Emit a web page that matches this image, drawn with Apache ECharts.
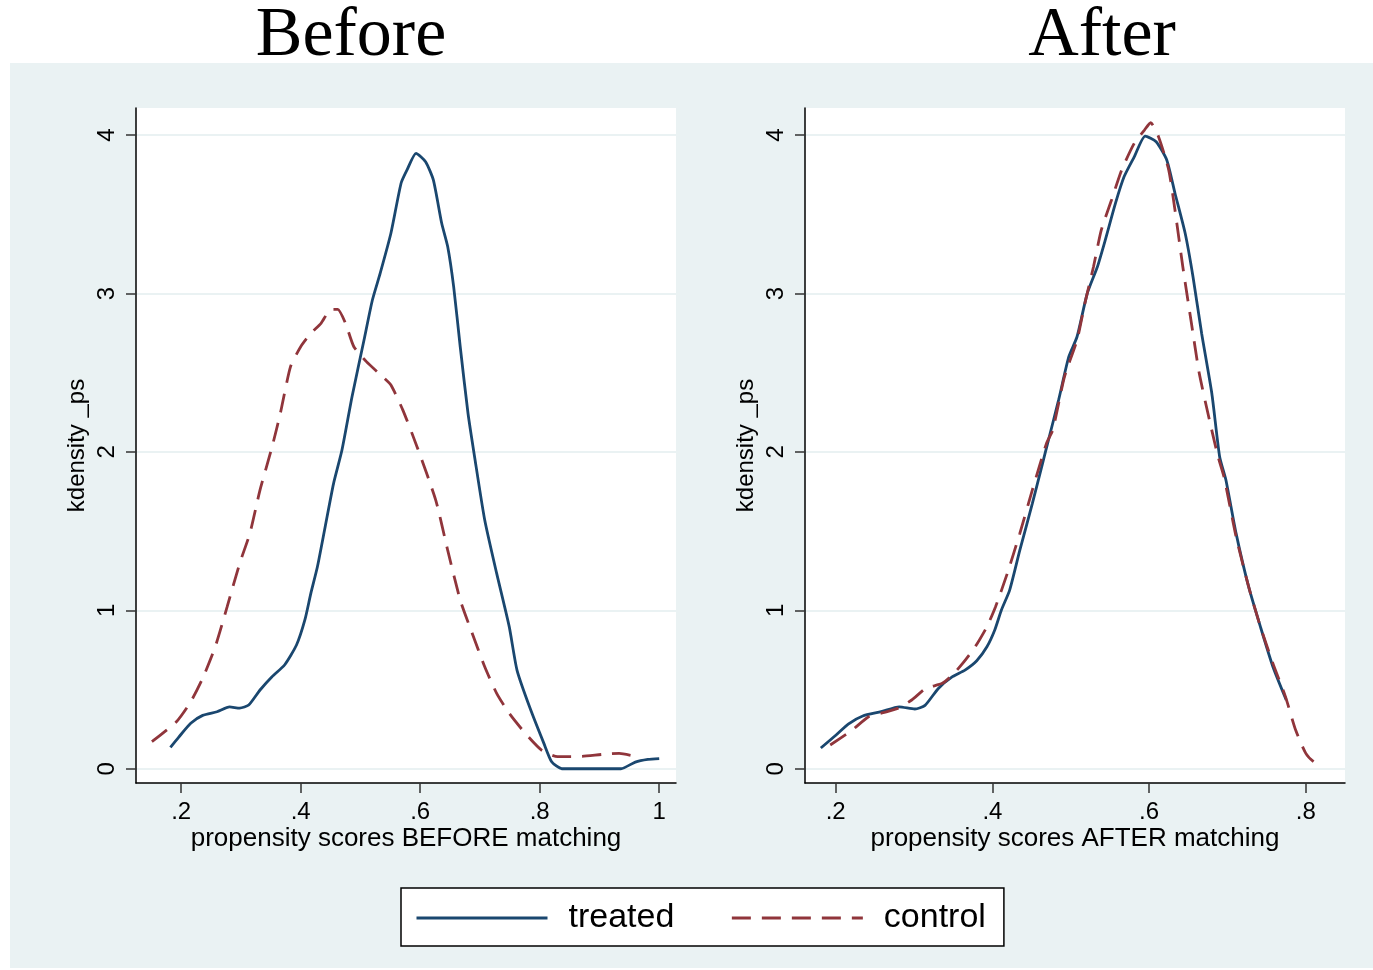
<!DOCTYPE html>
<html>
<head>
<meta charset="utf-8">
<script src="https://cdn.jsdelivr.net/npm/echarts@6/dist/echarts.min.js"></script>
<style>
html, body { margin: 0; padding: 0; background: #fff; }
#chart { width: 1373px; height: 970px; }
</style>
</head>
<body>
<div id="chart"></div>
<script>
// kdensity of propensity scores
const beforeTreated = [
  [0.182, 0.135], [0.196, 0.20], [0.216, 0.287], [0.236, 0.337], [0.260, 0.36], [0.281, 0.39],
  [0.298, 0.383], [0.313, 0.402], [0.332, 0.497], [0.352, 0.581], [0.373, 0.655], [0.393, 0.781],
  [0.407, 0.939], [0.417, 1.107], [0.428, 1.275], [0.441, 1.528], [0.455, 1.80], [0.469, 2.01],
  [0.486, 2.35], [0.506, 2.706], [0.520, 2.959], [0.533, 3.127], [0.551, 3.38], [0.568, 3.696],
  [0.578, 3.78], [0.593, 3.885], [0.609, 3.832], [0.622, 3.717], [0.636, 3.443], [0.646, 3.296],
  [0.656, 3.043], [0.667, 2.664], [0.680, 2.244], [0.691, 1.97], [0.708, 1.57], [0.728, 1.233],
  [0.749, 0.897], [0.762, 0.623], [0.783, 0.391], [0.807, 0.16], [0.820, 0.044], [0.837, 0],
  [0.936, 0], [0.960, 0.042], [0.981, 0.059], [1.0, 0.064]
];
const beforeControl = [
  [0.151, 0.171], [0.192, 0.297], [0.216, 0.423], [0.236, 0.571], [0.257, 0.77], [0.277, 1.023],
  [0.298, 1.297], [0.315, 1.486], [0.332, 1.76], [0.352, 2.03], [0.366, 2.244], [0.383, 2.538],
  [0.400, 2.664], [0.417, 2.749], [0.434, 2.812], [0.451, 2.9], [0.462, 2.9], [0.475, 2.812],
  [0.489, 2.664], [0.510, 2.57], [0.537, 2.475], [0.551, 2.422], [0.571, 2.264], [0.595, 2.03],
  [0.626, 1.696], [0.646, 1.38], [0.667, 1.065], [0.687, 0.855], [0.708, 0.644], [0.728, 0.476],
  [0.749, 0.35], [0.776, 0.223], [0.803, 0.118], [0.830, 0.076], [0.871, 0.078], [0.906, 0.091],
  [0.933, 0.097], [0.952, 0.085]
];
const afterTreated = [
  [0.181, 0.131], [0.2005, 0.213], [0.216, 0.282], [0.2345, 0.333], [0.258, 0.36], [0.281, 0.391],
  [0.301, 0.377], [0.314, 0.40], [0.331, 0.507], [0.349, 0.581], [0.365, 0.623], [0.380, 0.682],
  [0.393, 0.77], [0.403, 0.876], [0.4115, 1.002], [0.422, 1.128], [0.435, 1.38], [0.451, 1.675],
  [0.464, 1.928], [0.4715, 2.075], [0.4845, 2.328], [0.4975, 2.601], [0.508, 2.727], [0.521, 3.0],
  [0.534, 3.169], [0.544, 3.337], [0.557, 3.569], [0.568, 3.737], [0.581, 3.863], [0.595, 3.994],
  [0.609, 3.958], [0.6225, 3.843], [0.633, 3.633], [0.646, 3.38], [0.656, 3.106], [0.667, 2.749],
  [0.680, 2.37], [0.690, 1.97], [0.698, 1.823], [0.711, 1.486], [0.727, 1.149], [0.742, 0.897],
  [0.758, 0.644], [0.775, 0.434]
];
const afterControl = [
  [0.193, 0.15], [0.221, 0.244], [0.242, 0.328], [0.2605, 0.354], [0.279, 0.381], [0.297, 0.434],
  [0.315, 0.507], [0.336, 0.539], [0.349, 0.592], [0.362, 0.665], [0.378, 0.77], [0.393, 0.897],
  [0.404, 1.023], [0.419, 1.233], [0.435, 1.486], [0.451, 1.76], [0.469, 2.054], [0.477, 2.138],
  [0.492, 2.475], [0.508, 2.706], [0.518, 2.938], [0.529, 3.169], [0.539, 3.401], [0.552, 3.59],
  [0.565, 3.78], [0.581, 3.948], [0.594, 4.032], [0.602, 4.078], [0.612, 3.99], [0.625, 3.78],
  [0.633, 3.527], [0.643, 3.169], [0.654, 2.812], [0.664, 2.496], [0.677, 2.201], [0.688, 1.97],
  [0.6955, 1.843], [0.711, 1.465], [0.727, 1.149], [0.742, 0.897], [0.758, 0.665], [0.774, 0.455],
  [0.787, 0.244], [0.800, 0.097], [0.810, 0.044], [0.820, 0.019]
];
const yTicks = [0, 1, 2, 3, 4];
const xTicksBefore = [0.2, 0.4, 0.6, 0.8, 1];
const xTicksAfter = [0.2, 0.4, 0.6, 0.8];
const panelTitles = ["Before", "After"];
const xTitles = ["propensity scores BEFORE matching", "propensity scores AFTER matching"];
const yTitle = "kdensity _ps";
const seriesNames = ["treated", "control"];

const NAVY = "#1A476F";
const MAROON = "#90353B";
const BG = "#EAF2F3";
const FONT = "Liberation Sans";

const chart = echarts.init(document.getElementById("chart"));

function fmtX(v) {
  if (Math.abs(v - 1) < 1e-9) return "1";
  return v.toFixed(1).replace(/^0/, "");
}

function xAxisOf(gridIndex, min, max, ticks, name) {
  return {
    type: "value",
    gridIndex: gridIndex,
    min: min,
    max: max,
    name: name,
    nameLocation: "middle",
    nameGap: 43,
    nameMoveOverlap: false,
    nameTextStyle: { fontFamily: FONT, fontSize: 26, color: "#000" },
    axisLine: { show: true, onZero: false, lineStyle: { color: "#000", width: 1.5 } },
    axisTick: { show: true, length: 10, customValues: ticks, lineStyle: { color: "#333", width: 1.5 } },
    axisLabel: { customValues: ticks, formatter: fmtX, margin: 17, fontFamily: FONT, fontSize: 24, color: "#000" },
    splitLine: { show: false }
  };
}

function yAxisOf(gridIndex) {
  return {
    type: "value",
    gridIndex: gridIndex,
    min: -0.09,
    max: 4.171,
    name: yTitle,
    nameLocation: "middle",
    nameRotate: 90,
    nameGap: 47,
    nameMoveOverlap: false,
    nameTextStyle: { fontFamily: FONT, fontSize: 24, color: "#000" },
    axisLine: { show: true, onZero: false, lineStyle: { color: "#000", width: 1.5 } },
    axisTick: { show: true, length: 10, customValues: yTicks, lineStyle: { color: "#333", width: 1.5 } },
    axisLabel: { customValues: yTicks, rotate: 90, margin: 17, fontFamily: FONT, fontSize: 24, color: "#000" },
    splitLine: { show: true, lineStyle: { color: BG, width: 2 } }
  };
}

function curve(name, data, idx, color, dashed) {
  return {
    name: name,
    type: "line",
    xAxisIndex: idx,
    yAxisIndex: idx,
    data: data,
    symbol: "none",
    smooth: 0.2,
    z: 3,
    lineStyle: { color: color, width: 2.8, type: dashed ? [19, 11] : "solid" },
    itemStyle: { color: color }
  };
}

const option = {
  backgroundColor: "#fff",
  animation: false,
  graphic: [
    { type: "rect", z: -100, shape: { x: 10, y: 63, width: 1363, height: 905 }, style: { fill: BG } }
  ],
  title: [
    { text: panelTitles[0], left: 346, top: -3, textAlign: "center",
      textStyle: { fontFamily: "Liberation Serif", fontSize: 70, fontWeight: "normal", color: "#000" } },
    { text: panelTitles[1], left: 1097, top: -3, textAlign: "center",
      textStyle: { fontFamily: "Liberation Serif", fontSize: 70, fontWeight: "normal", color: "#000" } }
  ],
  legend: {
    left: 401,
    top: 888,
    orient: "horizontal",
    data: seriesNames,
    itemWidth: 131,
    itemHeight: 14,
    itemGap: 56,
    padding: [13, 18, 11, 14],
    backgroundColor: "#fff",
    borderColor: "#000",
    borderWidth: 1.5,
    borderRadius: 0,
    itemStyle: { color: "transparent", borderWidth: 0, opacity: 0 },
    lineStyle: { width: 3 },
    textStyle: { fontFamily: FONT, fontSize: 34, color: "#000", padding: [0, 0, 0, 16] }
  },
  grid: [
    { left: 136, top: 108, width: 540, height: 675, show: true, backgroundColor: "#fff", borderWidth: 0 },
    { left: 805, top: 108, width: 540, height: 675, show: true, backgroundColor: "#fff", borderWidth: 0 }
  ],
  xAxis: [
    xAxisOf(0, 0.1244, 1.0281, xTicksBefore, xTitles[0]),
    xAxisOf(1, 0.1608, 0.8500, xTicksAfter, xTitles[1])
  ],
  yAxis: [yAxisOf(0), yAxisOf(1)],
  series: [
    curve(seriesNames[0], beforeTreated, 0, NAVY, false),
    curve(seriesNames[1], beforeControl, 0, MAROON, true),
    curve(seriesNames[0], afterTreated, 1, NAVY, false),
    curve(seriesNames[1], afterControl, 1, MAROON, true)
  ]
};

chart.setOption(option);
</script>
</body>
</html>
